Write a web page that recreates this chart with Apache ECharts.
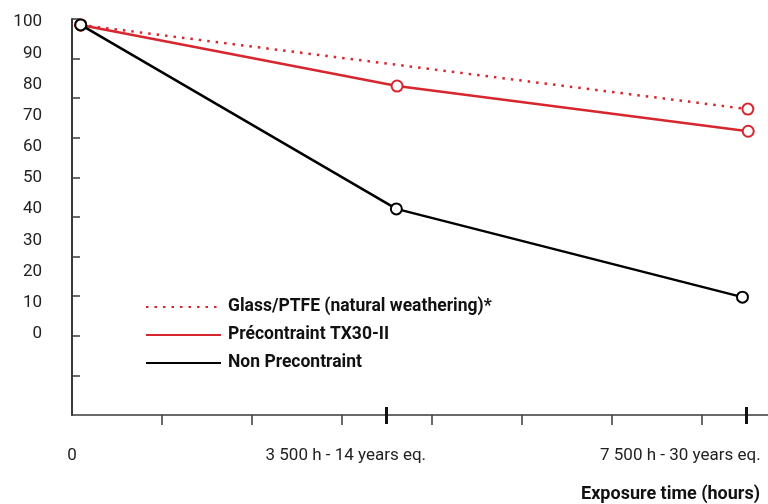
<!DOCTYPE html>
<html>
<head>
<meta charset="utf-8">
<script src="https://cdn.jsdelivr.net/npm/echarts@6/dist/echarts.min.js"></script>
<style>html,body{margin:0;padding:0;background:#fff;}#c{width:768px;height:504px;}</style>
</head>
<body>
<div id="c"></div>
<script>
// Data
const seriesNames = ['Glass/PTFE (natural weathering)*', 'Précontraint TX30-II', 'Non Precontraint'];
const glassData = [[97, 99.1], [7516, 72.1]];
const precontraintData = [[97, 99.1], [3615, 79.5], [7520, 65.0]];
const nonPrecontraintData = [[97, 99.1], [3607, 40.1], [7456, 11.8]];
const yLabelValues = [0, 10, 20, 30, 40, 50, 60, 70, 80, 90, 100];
const xLabelValues = [0, 3045, 6765];
const xLabelTexts = ['0', '3 500 h - 14 years eq.', '7 500 h - 30 years eq.'];
const xMinorTicks = [1000, 2000, 3000, 4000, 5000, 6000, 7000];
const xMajorTicks = [3500, 7500];
const xAxisName = 'Exposure time (hours)';

const RED = '#d7262e';
const BLACK = '#000000';
const AXIS = '#3a3a3a';
const FONT = 'Roboto, "DejaVu Sans", sans-serif';

const yMin = -26, yMax = 101;
const yTicks = [];
for (let k = 1; k <= 10; k++) yTicks.push(yMin + (yMax - yMin) * k / 10);

const chart = echarts.init(document.getElementById('c'), null, {renderer: 'canvas'});
chart.setOption({
  animation: false,
  backgroundColor: '#fff',
  grid: {left: 72, right: 0, top: 19, bottom: 89, containLabel: false},
  xAxis: [{
    type: 'value', min: 0, max: 7740,
    axisLine: {show: true, onZero: false, lineStyle: {color: AXIS, width: 1.5}},
    axisTick: {show: true, customValues: xMinorTicks, length: 10, lineStyle: {color: AXIS, width: 1.5}},
    splitLine: {show: false},
    axisLabel: {
      customValues: xLabelValues, margin: 32, color: '#222', fontSize: 17, fontFamily: FONT,
      formatter: function (v) { const i = xLabelValues.indexOf(v); return i >= 0 ? xLabelTexts[i] : ''; }
    },
    name: xAxisName, nameLocation: 'end', nameGap: 0,
    nameTextStyle: {fontWeight: 'bold', fontSize: 18, fontFamily: FONT, color: '#111', align: 'right', verticalAlign: 'top', padding: [70, 8, 0, 0]}
  }, {
    type: 'value', min: 0, max: 7740, position: 'bottom', offset: -8,
    axisLine: {show: false, onZero: false},
    axisTick: {show: true, customValues: xMajorTicks, length: 17, lineStyle: {color: '#111', width: 3}},
    axisLabel: {show: false}, splitLine: {show: false}
  }],
  yAxis: {
    type: 'value', min: yMin, max: yMax,
    axisLine: {show: true, lineStyle: {color: AXIS, width: 2}},
    axisTick: {show: true, inside: true, customValues: yTicks, length: 8, lineStyle: {color: AXIS, width: 1.5}},
    splitLine: {show: false},
    axisLabel: {customValues: yLabelValues, margin: 30, color: '#222', fontSize: 17, fontFamily: FONT}
  },
  legend: {
    left: 140, top: 293, orient: 'vertical', itemWidth: 75, itemHeight: 14, itemGap: 10,
    data: seriesNames,
    itemStyle: {opacity: 0},
    textStyle: {fontWeight: 'bold', fontSize: 17.5, lineHeight: 14, fontFamily: FONT, color: '#111', padding: [0, 0, 0, 2]}
  },
  series: [{
    name: seriesNames[0], type: 'line', data: glassData,
    lineStyle: {color: RED, width: 2.5, type: [2.5, 6]},
    itemStyle: {color: RED, borderColor: RED, borderWidth: 2.5},
    symbol: 'emptyCircle', symbolSize: 11, showSymbol: true, z: 2
  }, {
    name: seriesNames[1], type: 'line', data: precontraintData,
    lineStyle: {color: RED, width: 2.5},
    itemStyle: {color: RED, borderColor: RED, borderWidth: 2.5},
    symbol: 'emptyCircle', symbolSize: 11, z: 3
  }, {
    name: seriesNames[2], type: 'line', data: nonPrecontraintData,
    lineStyle: {color: BLACK, width: 2.5},
    itemStyle: {color: BLACK, borderColor: BLACK, borderWidth: 2.5},
    symbol: 'emptyCircle', symbolSize: 11, z: 4
  }]
});
</script>
</body>
</html>
